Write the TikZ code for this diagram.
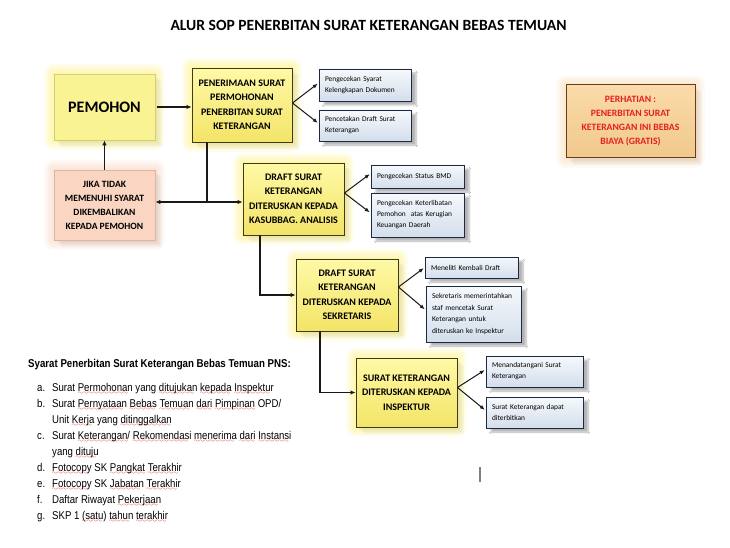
\documentclass[tikz,border=0pt]{standalone}
\usepackage{fontspec}
\setmainfont{Carlito}
\newfontfamily\listfont[FakeStretch=0.85]{Liberation Sans}
\usetikzlibrary{arrows.meta,shadows.blur}
\font\sixly=lasy6
\newsavebox\rwbox
\newcommand\rw[1]{\sbox\rwbox{#1}\leavevmode\rlap{\color{red}\lower3.2pt\hbox to\wd\rwbox{\leaders\hbox{\sixly\char58}\hfil}}\usebox\rwbox}
\definecolor{ytop}{HTML}{FFF9A6}
\definecolor{ybot}{HTML}{F3E467}
\definecolor{ybord}{HTML}{3E3A1C}
\definecolor{yglow}{HTML}{FFF04A}
\definecolor{pfill}{HTML}{FAF394}
\definecolor{pbord}{HTML}{D2CC80}
\definecolor{jfill}{HTML}{F9D5C2}
\definecolor{jbord}{HTML}{DDB49C}
\definecolor{jglow}{HTML}{F7C4AA}
\definecolor{stop}{HTML}{F6F9FC}
\definecolor{sbot}{HTML}{D3DEEC}
\definecolor{sbord}{HTML}{1D2940}
\definecolor{ntop}{HTML}{FADBA9}
\definecolor{nbot}{HTML}{F0C88C}
\definecolor{nbord}{HTML}{6A3C1E}
\definecolor{nglow}{HTML}{F9CF96}
\definecolor{ntext}{HTML}{E5201C}
\tikzset{
  gl/.style={preaction={draw=#1, draw opacity=0.09, line width=20pt, line join=round},
             preaction={draw=#1, draw opacity=0.09, line width=16pt, line join=round},
             preaction={draw=#1, draw opacity=0.1, line width=12pt, line join=round},
             preaction={draw=#1, draw opacity=0.1, line width=8pt, line join=round},
             preaction={draw=#1, draw opacity=0.1, line width=4pt, line join=round}},
  sh/.style={preaction={fill=black, fill opacity=0.04, transform canvas={xshift=3pt,yshift=-3pt}},
             preaction={fill=black, fill opacity=0.04, transform canvas={xshift=5pt,yshift=-5pt}},
             preaction={fill=black, fill opacity=0.03, transform canvas={xshift=7pt,yshift=-7pt}}},
  yb/.style={sh, gl=yglow, draw=ybord, line width=0.9pt, top color=ytop, bottom color=ybot, align=center,
    font=\fontsize{10}{14.5}\selectfont\bfseries, inner sep=0pt},
  sb/.style={draw=sbord, line width=0.8pt, top color=stop, bottom color=sbot, align=left,
    font=\fontsize{7.4}{11}\selectfont, inner xsep=6pt, inner ysep=0pt,
    blur shadow={shadow xshift=5pt, shadow yshift=-4pt, shadow opacity=30, shadow blur steps=6}},
  flow/.style={line width=1.3pt, draw=black!90, -{Latex[length=5pt,width=4.5pt]}},
  fan/.style={line width=1pt, draw=black!90, -{Latex[length=5pt,width=4pt]}, shorten >=1pt},
}
\begin{document}
\begin{tikzpicture}[x=1pt,y=-1pt]
\useasboundingbox (0,0) rectangle (730,548);
\fill[white] (0,0) rectangle (730,548);
\fill[white, fill opacity=0.02] (0,0) rectangle (1,1);

\node (title) at (368.5,25) {\fontsize{15.6}{18}\selectfont\bfseries ALUR SOP PENERBITAN SURAT KETERANGAN BEBAS TEMUAN};

% main boxes
\node[sh, gl=yglow, draw=pbord, line width=0.8pt, fill=pfill, minimum width=101pt, minimum height=66pt,
  font=\fontsize{16}{18}\selectfont\bfseries] (pem) at (104.5,107) {PEMOHON};
\node[yb, minimum width=100pt, minimum height=74pt] (pen) at (242,105) {PENERIMAAN SURAT\\PERMOHONAN\\PENERBITAN SURAT\\KETERANGAN};
\node[sh, gl=jglow, draw=jbord, line width=0.8pt, fill=jfill, minimum width=101pt, minimum height=70pt, align=center,
  font=\fontsize{9.6}{14}\selectfont\bfseries] (jika) at (104.5,205) {JIKA TIDAK\\MEMENUHI SYARAT\\DIKEMBALIKAN\\KEPADA PEMOHON};
\node[yb, minimum width=101pt, minimum height=72pt] (dr1) at (293.5,199) {DRAFT SURAT\\KETERANGAN\\DITERUSKAN KEPADA\\KASUBBAG. ANALISIS};
\node[yb, minimum width=102pt, minimum height=72pt] (dr2) at (347,295) {DRAFT SURAT\\KETERANGAN\\DITERUSKAN KEPADA\\SEKRETARIS};
\node[yb, minimum width=101pt, minimum height=69pt] (insp) at (406.5,392.5) {SURAT KETERANGAN\\DITERUSKAN KEPADA\\INSPEKTUR};
\node[sh, gl=nglow, draw=nbord, line width=1pt, top color=ntop, bottom color=nbot, minimum width=129pt, minimum height=73pt, align=center,
  font=\fontsize{9.7}{14}\selectfont\bfseries, text=ntext] (note) at (630.5,121.5) {PERHATIAN :\\PENERBITAN SURAT\\KETERANGAN INI BEBAS\\BIAYA (GRATIS)};

% small boxes
\node[sb, text width=80pt, minimum height=32pt] (s1) at (365,85) {Pengecekan Syarat\\Kelengkapan Dokumen};
\node[sb, text width=80pt, minimum height=31pt] (s2) at (365,125.5) {Pencetakan Draft Surat\\Keterangan};
\node[sb, text width=81pt, minimum height=23pt] (s3) at (417.5,176.5) {Pengecekan Status BMD};
\node[sb, text width=81pt, minimum height=44pt] (s4) at (417.5,215) {Pengecekan Keterlibatan\\Pemohon\ \ atas Kerugian\\Keuangan Daerah};
\node[sb, text width=81pt, minimum height=21pt] (s5) at (471.5,267.5) {Meneliti Kembali Draft};
\node[sb, text width=83pt, minimum height=56pt, font=\fontsize{7.4}{11.5}\selectfont] (s6) at (473.5,314) {Sekretaris memerintahkan\\staf mencetak Surat\\Keterangan untuk\\diteruskan ke Inspektur};
\node[sb, text width=85pt, minimum height=31pt] (s7) at (534.5,371.5) {Menandatangani Surat\\Keterangan};
\node[sb, text width=85pt, minimum height=31pt] (s8) at (534.5,412.5) {Surat Keterangan dapat\\diterbitkan};

% connectors
\draw[flow, shorten <=2pt] (pem.east) -- (pem.east -| pen.west);
\draw[flow] (jika.north) -- (pem.south);
\coordinate (j1) at (207,202);
\draw[line width=1.3pt, draw=black!90] (pen.south -| j1) -- (j1);
\draw[flow] (j1) -- (j1 -| jika.east);
\draw[flow] (j1) -- (j1 -| dr1.west);
\coordinate (c2) at (260,0);
\draw[flow] (dr1.south -| c2) |- (dr2.west);
\coordinate (c3) at (320,0);
\draw[flow] (dr2.south -| c3) |- (insp.west);

\draw[fan] ([yshift=2pt]pen.east) -- ([yshift=2pt]s1.west);
\draw[fan] ([yshift=2pt]pen.east) -- ([yshift=2pt]s2.west);
\draw[fan] ([yshift=6pt]dr1.east) -- ([yshift=3pt]s3.west);
\draw[fan] ([yshift=6pt]dr1.east) -- ([yshift=2pt]s4.west);
\draw[fan] ([yshift=8pt]dr2.east) -- (s5.west);
\draw[fan] ([yshift=8pt]dr2.east) -- ([yshift=4pt]s6.west);
\draw[fan] ([yshift=5pt]insp.east) -- ([yshift=2pt]s7.west);
\draw[fan] ([yshift=5pt]insp.east) -- ([yshift=2pt]s8.west);

% requirements list
\node[anchor=west, inner sep=0pt, font=\listfont\fontsize{11.4}{13}\selectfont\bfseries] (head) at (28,365) {Syarat Penerbitan Surat Keterangan Bebas Temuan PNS:};
\node[anchor=north west, inner sep=0pt, font=\listfont\fontsize{11.3}{16}\selectfont] (list) at (37,380) {%
\begin{tabular}{@{}l@{}}
\makebox[15pt][l]{a.}Surat \rw{Permohonan} yang \rw{ditujukan} \rw{kepada} \rw{Inspektur}\\
\makebox[15pt][l]{b.}Surat \rw{Pernyataan} \rw{Bebas} \rw{Temuan} \rw{dari} \rw{Pimpinan} OPD/\\
\makebox[15pt][l]{}Unit \rw{Kerja} yang \rw{ditinggalkan}\\
\makebox[15pt][l]{c.}Surat \rw{Keterangan/} \rw{Rekomendasi} \rw{menerima} \rw{dari} \rw{Instansi}\\
\makebox[15pt][l]{}yang \rw{dituju}\\
\makebox[15pt][l]{d.}\rw{Fotocopy} SK \rw{Pangkat} \rw{Terakhir}\\
\makebox[15pt][l]{e.}\rw{Fotocopy} SK \rw{Jabatan} \rw{Terakhir}\\
\makebox[15pt][l]{f.}Daftar Riwayat \rw{Pekerjaan}\\
\makebox[15pt][l]{g.}SKP 1 \rw{(satu)} \rw{tahun} \rw{terakhir}
\end{tabular}};

\draw[gray, line width=1.2pt] (480,467) -- (480,482);
\end{tikzpicture}
\end{document}
